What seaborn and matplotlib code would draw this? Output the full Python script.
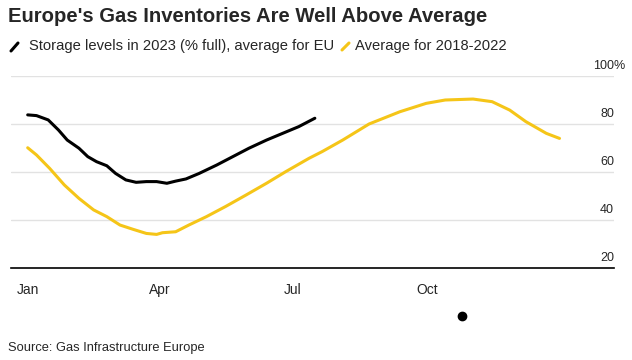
import matplotlib
matplotlib.use("Agg")
import matplotlib.pyplot as plt
import matplotlib.transforms as mtransforms
from matplotlib.lines import Line2D
import pandas as pd
import seaborn as sns

# day of year (0 = Jan 1) and % full
days_2023 = [0, 6, 14, 21, 27, 35, 41, 47, 54, 60, 67, 74, 81, 88, 95, 101,
             108, 117, 129, 140, 151, 163, 174, 185, 196]
storage_2023 = [83.8, 83.5, 81.7, 77.5, 73.3, 69.9, 66.4, 64.3, 62.6, 59.4,
                56.7, 55.7, 56.0, 56.0, 55.3, 56.2, 57.1, 59.4, 62.9, 66.4,
                69.9, 73.3, 76.1, 78.9, 82.4]

days_avg = [0, 6, 15, 25, 35, 45, 54, 63, 72, 81, 88, 92, 101, 110, 122, 135,
            149, 163, 176, 192, 201, 215, 233, 254, 272, 285, 304, 317, 329,
            340, 354, 363]
avg_2018_2022 = [70.1, 67.1, 61.5, 54.6, 49.0, 44.2, 41.4, 37.9, 36.1, 34.4,
                 34.0, 34.7, 35.1, 37.9, 41.4, 45.6, 50.4, 55.3, 60.1, 65.7,
                 68.5, 73.3, 80.0, 85.1, 88.6, 90.0, 90.4, 89.3, 85.8, 81.0,
                 76.1, 74.0]

month_ticks = [0, 90, 181, 273]
month_labels = ["Jan", "Apr", "Jul", "Oct"]
y_ticks = [20, 40, 60, 80, 100]

BLACK = "#000000"
YELLOW = "#f5c518"

sns.set_style("white")
plt.rcParams["font.family"] = ["Liberation Sans", "DejaVu Sans"]

fig = plt.figure(figsize=(6.32, 3.6), dpi=100)
ax = fig.add_axes([11 / 632, 1 - 268 / 360, (614 - 11) / 632, 192 / 360])

df_2023 = pd.DataFrame({"day": days_2023, "pct": storage_2023})
df_avg = pd.DataFrame({"day": days_avg, "pct": avg_2018_2022})

sns.lineplot(data=df_avg, x="day", y="pct", color=YELLOW, lw=2.2, ax=ax)
sns.lineplot(data=df_2023, x="day", y="pct", color=BLACK, lw=2.2, ax=ax)

ax.set_xlim(-11.4, 400.2)
ax.set_ylim(20, 100)
ax.set_xlabel("")
ax.set_ylabel("")

for v in y_ticks[1:]:
    ax.axhline(v, color="#e2e2e2", lw=1, zorder=0)

for s in ["top", "right", "left"]:
    ax.spines[s].set_visible(False)
ax.spines["bottom"].set_color("#000000")
ax.spines["bottom"].set_linewidth(1.2)

ax.set_xticks(month_ticks)
ax.set_xticklabels(month_labels, fontsize=10)
ax.tick_params(axis="x", length=5, width=1, color="#333333", pad=6,
               direction="out")
ax.set_yticks([])

# right-side value labels sitting above the gridlines
trans = mtransforms.offset_copy(ax.get_yaxis_transform(), fig=fig, y=4,
                                units="dots")
for v in y_ticks:
    ax.text(1.0, v, str(v), transform=trans, ha="right", va="bottom",
            fontsize=9)
ax.text(1.0, 100, "%", transform=trans, ha="left", va="bottom", fontsize=9)

fig.text(8 / 632, 1 - 17 / 360, "Europe's Gas Inventories Are Well Above Average",
         fontsize=14.6, fontweight="bold", va="center", ha="left")

# legend with slash icons
fig.add_artist(Line2D([11 / 632, 18 / 632], [1 - 51 / 360, 1 - 43 / 360],
                      color=BLACK, lw=2.2, transform=fig.transFigure))
fig.text(29 / 632, 1 - 46 / 360,
         "Storage levels in 2023 (% full), average for EU",
         fontsize=10.6, va="center", ha="left")
fig.add_artist(Line2D([342 / 632, 349 / 632], [1 - 50 / 360, 1 - 43 / 360],
                      color=YELLOW, lw=2.2, transform=fig.transFigure))
fig.text(355 / 632, 1 - 46 / 360, "Average for 2018-2022",
         fontsize=10.6, va="center", ha="left")

fig.add_artist(Line2D([462 / 632], [1 - 316 / 360], marker="o", ms=6,
                      color=BLACK, transform=fig.transFigure))

fig.text(8 / 632, 1 - 348 / 360, "Source: Gas Infrastructure Europe",
         fontsize=9.3, va="center", ha="left")

fig.savefig("out.png", dpi=100)
